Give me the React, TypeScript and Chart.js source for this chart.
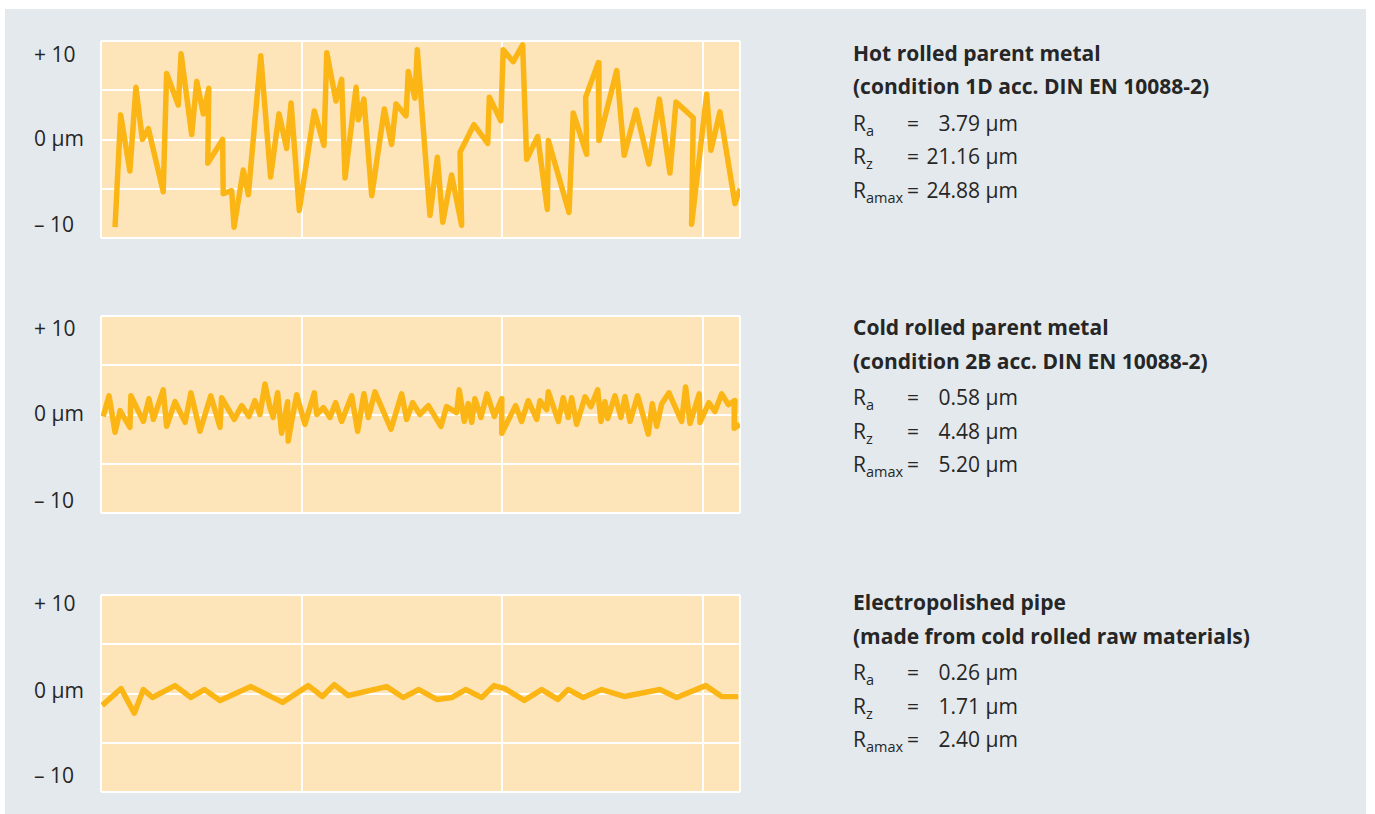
import React, { useEffect, useRef } from "react";
import { Chart, registerables } from "chart.js";

Chart.register(...registerables);

// ---------- data ----------
const hotX = [0.070,0.098,0.144,0.174,0.206,0.236,0.310,0.327,0.385,0.399,0.452,0.477,0.510,0.537,0.532,0.606,0.609,0.651,0.663,0.709,0.734,0.796,0.845,0.887,0.925,0.947,0.988,1.063,1.111,1.125,1.171,1.199,1.216,1.271,1.282,1.310,1.349,1.412,1.448,1.470,1.520,1.531,1.564,1.576,1.639,1.676,1.703,1.747,1.797,1.789,1.858,1.927,1.935,1.992,2.004,2.054,2.101,2.121,2.176,2.224,2.229,2.332,2.353,2.420,2.415,2.478,2.481,2.570,2.607,2.666,2.730,2.782,2.835,2.865,2.951,2.943,3.018,3.039,3.084,3.159,3.184];
const hotY = [-8.9,2.5,-3.2,5.3,0.0,1.1,-5.3,6.7,3.5,8.7,0.5,5.9,2.6,5.2,-2.4,0.0,-5.5,-5.2,-8.9,-3.1,-5.6,8.5,-3.8,2.6,-0.9,3.7,-7.2,2.9,-0.6,8.8,3.9,6.1,-3.9,5.3,2.0,4.1,-5.7,3.1,-0.5,3.6,2.4,6.9,4.2,9.1,-7.7,-1.8,-8.4,-3.6,-8.7,-1.3,1.5,-0.4,4.3,1.9,9.1,7.9,9.6,-2.0,0.3,-7.1,-0.1,-7.4,2.7,-1.5,4.3,7.8,-0.1,7.0,-1.6,3.0,-2.5,4.1,-3.4,3.8,2.2,-8.6,4.6,-1.1,2.8,-6.5,-5.0];

const coldX = [0.011,0.040,0.070,0.095,0.144,0.149,0.211,0.239,0.261,0.310,0.327,0.369,0.419,0.448,0.493,0.547,0.593,0.601,0.664,0.701,0.737,0.767,0.792,0.817,0.842,0.858,0.880,0.900,0.930,0.933,0.950,0.975,1.016,1.063,1.075,1.108,1.141,1.169,1.199,1.249,1.279,1.310,1.332,1.365,1.445,1.498,1.523,1.553,1.589,1.631,1.694,1.722,1.772,1.785,1.810,1.830,1.847,1.863,1.893,1.923,1.960,1.996,1.997,2.066,2.096,2.129,2.171,2.187,2.221,2.229,2.279,2.303,2.328,2.345,2.370,2.412,2.441,2.475,2.491,2.511,2.525,2.561,2.591,2.611,2.636,2.674,2.727,2.747,2.769,2.794,2.830,2.893,2.913,2.935,2.981,2.985,3.029,3.059,3.093,3.126,3.159,3.155,3.184];
const coldY = [-0.2,1.9,-1.8,0.4,-1.3,1.9,-0.7,1.6,-0.5,2.5,-1.2,1.3,-0.8,2.2,-1.7,1.9,-1.3,1.7,-0.5,0.9,-0.2,1.4,0.0,3.1,0.7,-0.3,2.2,-1.9,1.3,-2.7,-0.7,2.0,-1.0,2.2,0.0,0.7,-0.3,1.2,-0.7,1.9,-1.7,2.1,-0.3,2.3,-1.5,2.1,-0.5,1.2,0.0,0.9,-1.2,0.8,0.2,2.5,-0.7,1.1,-0.8,1.6,-0.3,2.1,-0.2,1.6,-1.9,0.9,-0.7,1.4,-0.5,1.4,0.5,2.3,-0.7,1.7,-0.3,1.7,-1.0,1.8,0.8,2.5,-0.7,1.3,-0.4,1.9,-0.3,1.8,-0.7,1.9,-2.0,1.1,-1.2,1.1,2.2,-0.7,2.8,-0.9,2.1,-0.8,1.2,0.3,2.1,1.0,1.4,-1.4,-1.0];

const epX = [0.006,0.100,0.166,0.211,0.256,0.369,0.448,0.515,0.593,0.747,0.905,1.033,1.103,1.162,1.232,1.423,1.506,1.584,1.673,1.750,1.817,1.897,1.958,2.013,2.109,2.196,2.276,2.328,2.403,2.495,2.607,2.785,2.868,3.013,3.093,3.175];
const epY = [-1.2,0.5,-2.0,0.4,-0.4,0.8,-0.4,0.4,-0.7,0.7,-0.9,0.8,-0.3,0.9,-0.2,0.7,-0.4,0.4,-0.6,-0.4,0.4,-0.4,0.8,0.5,-0.7,0.4,-0.6,0.4,-0.4,0.4,-0.3,0.4,-0.4,0.8,-0.3,-0.3];

const xGrid = [0, 1, 2, 3];
const xMax = 3.184;
const yGrid = [-10, -5, 0, 5, 10];
const yTickLabels = ["+ 10", "0 µm", "– 10"];

const titles = ["Hot rolled parent metal", "Cold rolled parent metal", "Electropolished pipe"];
const subtitles = ["(condition 1D acc. DIN EN 10088-2)", "(condition 2B acc. DIN EN 10088-2)", "(made from cold rolled raw materials)"];
const raValues = ["3.79", "0.58", "0.26"];
const rzValues = ["21.16", "4.48", "1.71"];
const rmaxValues = ["24.88", "5.20", "2.40"];

// ---------- styles ----------
const PANEL = "#e4e9ed";
const PLOT_FILL = "#fde5b9";
const LINE = "#fbb616";
const TEXT = "#262626";
const FONT = "'Open Sans', 'Noto Sans', sans-serif";

const PANEL_LEFT = 5;
const PANEL_TOP = 9;
const PLOT_LEFT = 101;
const PLOT_W = 639;
const PLOT_H = 197;
const PLOT_TOPS = [41, 316, 595];
const PAD = 4;

const LABEL_CENTERS = [
  [55, 139.5, 225.5],
  [329, 414, 501],
  [604, 691, 776.5],
];
const TEXT_CENTERS = [54.2, 328.7, 603.5];

function Profile({ xs, ys, top }: { xs: number[]; ys: number[]; top: number }) {
  const ref = useRef<HTMLCanvasElement>(null);
  useEffect(() => {
    const bg = {
      id: "plotBg",
      beforeDraw(chart: any) {
        const { ctx, chartArea: a } = chart;
        ctx.save();
        ctx.fillStyle = PLOT_FILL;
        ctx.fillRect(a.left, a.top, a.right - a.left, a.bottom - a.top);
        ctx.restore();
      },
    };
    const chart = new Chart(ref.current as HTMLCanvasElement, {
      type: "line",
      data: {
        datasets: [
          {
            data: xs.map((x, i) => ({ x, y: ys[i] })),
            borderColor: LINE,
            borderWidth: 5.5,
            borderJoinStyle: "round",
            borderCapStyle: "butt",
            pointRadius: 0,
            tension: 0,
            fill: false,
          },
        ],
      },
      options: {
        responsive: false,
        maintainAspectRatio: false,
        animation: false,
        events: [],
        layout: { padding: PAD },
        plugins: { legend: { display: false }, tooltip: { enabled: false } },
        scales: {
          x: {
            type: "linear",
            min: 0,
            max: xMax,
            afterFit: (s: any) => { s.height = 0; },
            afterBuildTicks: (s: any) => { s.ticks = [...xGrid, xMax].map((v) => ({ value: v })); },
            ticks: { display: false },
            grid: { color: "#ffffff", lineWidth: 2, drawTicks: false },
            border: { display: false },
          },
          y: {
            type: "linear",
            min: -10,
            max: 10,
            afterFit: (s: any) => { s.width = 0; },
            afterBuildTicks: (s: any) => { s.ticks = yGrid.map((v) => ({ value: v })); },
            ticks: { display: false },
            grid: { color: "#ffffff", lineWidth: 2, drawTicks: false },
            border: { display: false },
          },
        },
      } as any,
      plugins: [bg],
    });
    return () => chart.destroy();
  }, [xs, ys]);
  return (
    <canvas
      ref={ref}
      width={PLOT_W + 2 * PAD}
      height={PLOT_H + 2 * PAD}
      style={{
        position: "absolute",
        left: PLOT_LEFT - PAD - PANEL_LEFT,
        top: top - PAD - PANEL_TOP,
        width: PLOT_W + 2 * PAD,
        height: PLOT_H + 2 * PAD,
      }}
    />
  );
}

function Sub({ children }: { children: React.ReactNode }) {
  return <span style={{ fontSize: 14.5, position: "relative", top: 5 }}>{children}</span>;
}

function StatRow({ label, value }: { label: React.ReactNode; value: string }) {
  return (
    <div style={{ display: "flex", height: 33.5 }}>
      <span style={{ width: 54 }}>{label}</span>
      <span style={{ width: 14 }}>=</span>
      <span style={{ width: 97, textAlign: "right" }}>{value} µm</span>
    </div>
  );
}

export default function App() {
  const series = [
    { xs: hotX, ys: hotY },
    { xs: coldX, ys: coldY },
    { xs: epX, ys: epY },
  ];
  return (
    <div
      style={{
        position: "absolute",
        left: PANEL_LEFT,
        top: PANEL_TOP,
        width: 1361,
        height: 805,
        background: PANEL,
        fontFamily: FONT,
        color: TEXT,
      }}
    >
      {series.map((s, i) => (
        <React.Fragment key={i}>
          <Profile xs={s.xs} ys={s.ys} top={PLOT_TOPS[i]} />
          {yTickLabels.map((t, j) => (
            <div
              key={j}
              style={{
                position: "absolute",
                left: 34 - PANEL_LEFT,
                top: LABEL_CENTERS[i][j] - PANEL_TOP - 11.2,
                fontSize: 21,
                lineHeight: "21px",
                whiteSpace: "pre",
              }}
            >
              {t}
            </div>
          ))}
          <div
            style={{
              position: "absolute",
              left: 853 - PANEL_LEFT,
              top: TEXT_CENTERS[i] - PANEL_TOP - 17.4,
              fontSize: 21,
              lineHeight: "33.5px",
              whiteSpace: "nowrap",
            }}
          >
            <div style={{ fontWeight: 700, height: 33.5 }}>{titles[i]}</div>
            <div style={{ fontWeight: 700, height: 36.5 }}>{subtitles[i]}</div>
            <StatRow label={<>R<Sub>a</Sub></>} value={raValues[i]} />
            <StatRow label={<>R<Sub>z</Sub></>} value={rzValues[i]} />
            <StatRow label={<>R<Sub>amax</Sub></>} value={rmaxValues[i]} />
          </div>
        </React.Fragment>
      ))}
    </div>
  );
}
